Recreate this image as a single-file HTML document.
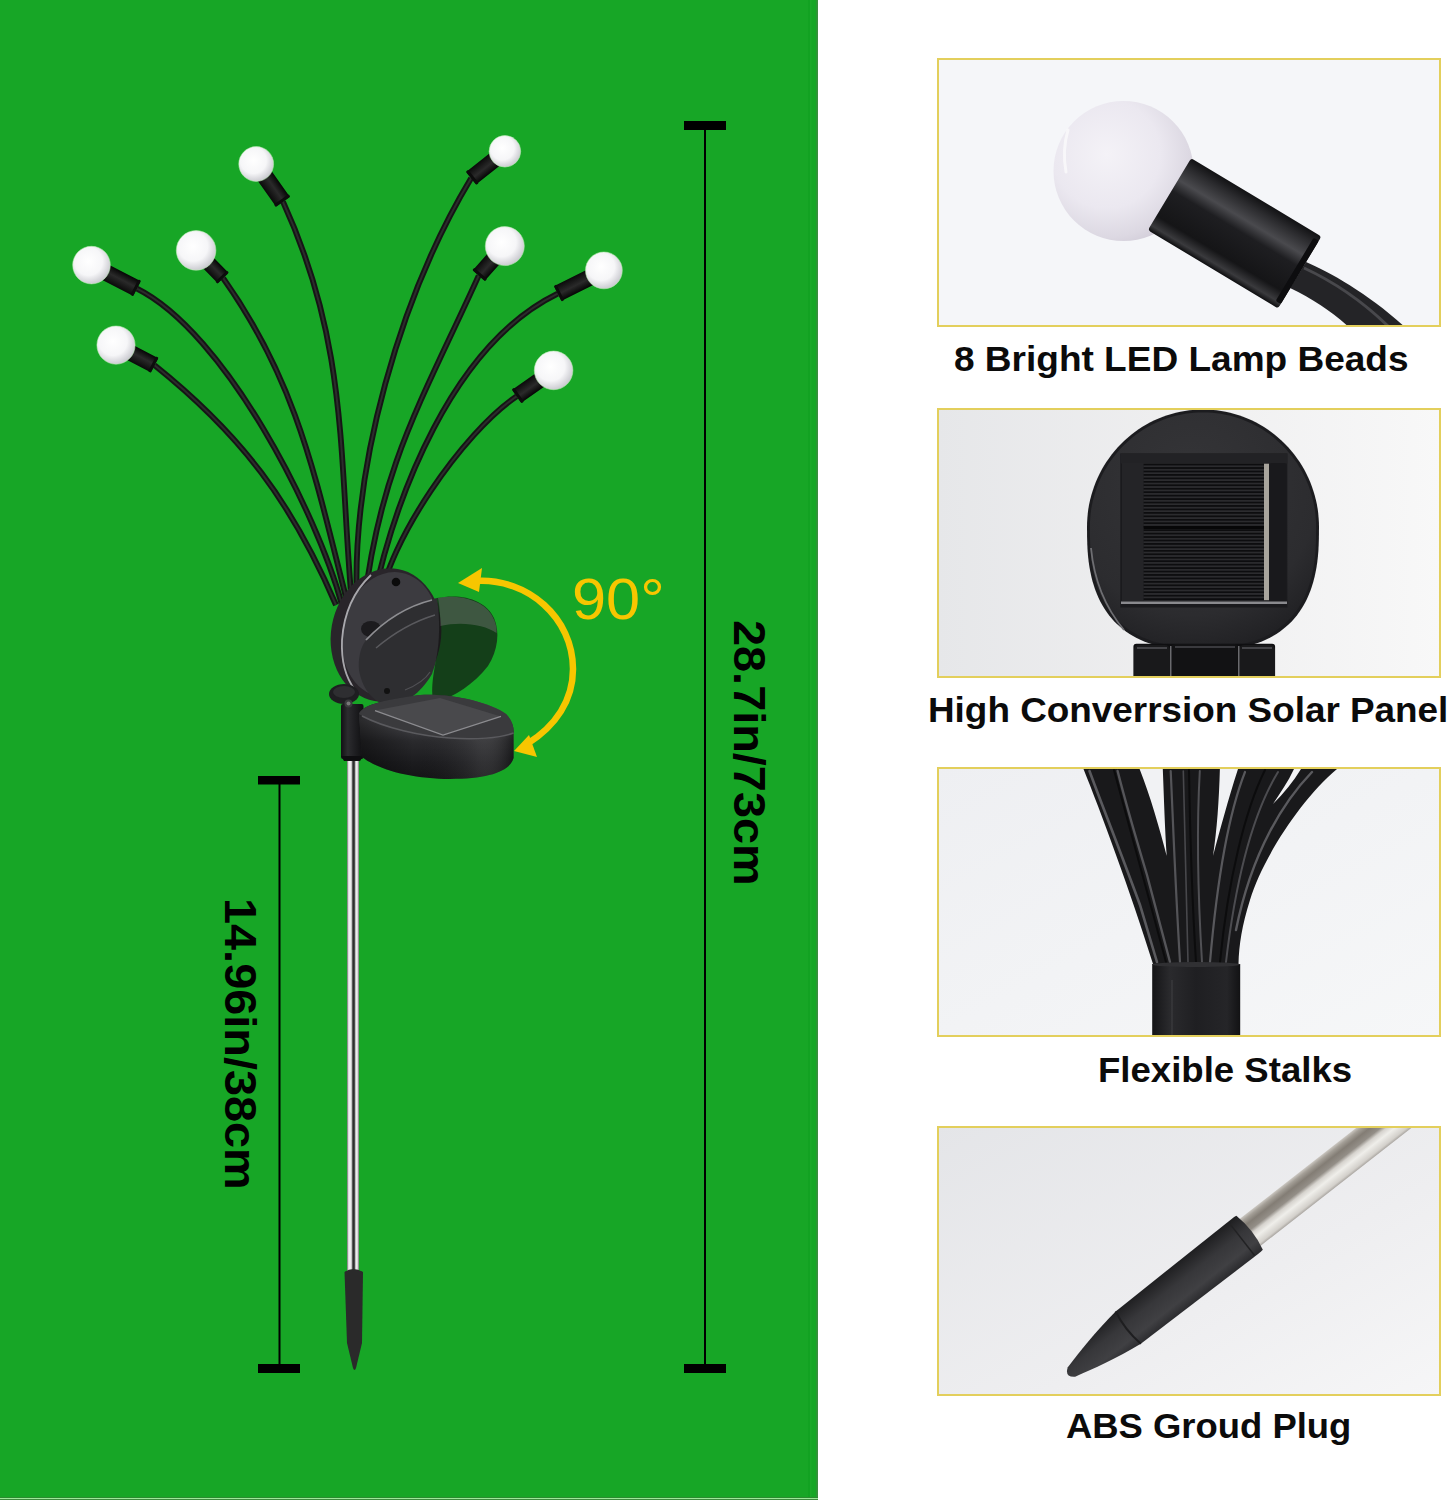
<!DOCTYPE html>
<html><head><meta charset="utf-8">
<style>
html,body{margin:0;padding:0;width:1448px;height:1500px;overflow:hidden;background:#fff;}
body{position:relative;font-family:"Liberation Sans",sans-serif;}
.left{position:absolute;left:0;top:0;width:818px;height:1500px;}
.card{position:absolute;left:937px;width:500px;height:266px;border:2px solid #e3cf5c;background:#f4f5f7;overflow:hidden;}
.lbl{position:absolute;font-weight:bold;color:#0b0b0b;white-space:nowrap;line-height:1;font-size:35.3px;transform-origin:0 0;}
.vt{position:absolute;font-weight:bold;color:#000;white-space:nowrap;line-height:1;transform-origin:0 0;}
</style></head><body>
<svg class="left" width="818" height="1500" viewBox="0 0 818 1500">
<defs>
<radialGradient id="bulb" cx="0.42" cy="0.4" r="0.62">
<stop offset="0" stop-color="#ffffff"/><stop offset="0.6" stop-color="#f6f6f8"/><stop offset="1" stop-color="#c9c9cf"/>
</radialGradient>
<linearGradient id="sock" x1="0" y1="0" x2="0" y2="1">
<stop offset="0" stop-color="#050505"/><stop offset="0.45" stop-color="#2a2a2a"/><stop offset="1" stop-color="#0a0a0a"/>
</linearGradient>
<linearGradient id="pole" x1="0" y1="0" x2="1" y2="0">
<stop offset="0" stop-color="#6a6a6a"/><stop offset="0.15" stop-color="#f4f4f4"/><stop offset="0.35" stop-color="#e8e8e8"/><stop offset="0.5" stop-color="#222"/><stop offset="0.62" stop-color="#444"/><stop offset="0.75" stop-color="#f7f7f7"/><stop offset="0.92" stop-color="#cfcfcf"/><stop offset="1" stop-color="#555"/>
</linearGradient>
</defs>
<rect x="0" y="0" width="818" height="1500" fill="#17a626"/>
<rect x="808" y="0" width="2" height="1497" fill="#12a222"/>
<rect x="810" y="0" width="1.5" height="1497" fill="#1da92a"/>
<rect x="816.3" y="0" width="1.7" height="1497" fill="#3a8f3e"/>
<rect x="0" y="1497" width="818" height="1" fill="#2c8a30"/>
<rect x="0" y="1498" width="818" height="1" fill="#9de89a"/>
<rect x="0" y="1499" width="818" height="1" fill="#3c8c3c"/>
<!-- dimension lines -->
<rect x="684" y="121" width="42" height="9" fill="#000"/>
<rect x="704" y="125" width="2" height="1244" fill="#000"/>
<rect x="684" y="1364" width="42" height="9" fill="#000"/>
<rect x="258" y="776" width="42" height="8.5" fill="#000"/>
<rect x="278.5" y="780" width="2" height="588" fill="#000"/>
<rect x="258" y="1364" width="42" height="9" fill="#000"/>
<!-- pole -->
<rect x="347" y="750" width="12" height="525" fill="url(#pole)"/>
<path d="M344.5,1272 Q353,1266 363,1272 L362,1343 L356,1368 Q354.5,1372 353,1368 L347,1343 Z" fill="#2a2a2a"/>
<!-- stalks & bulbs -->
<path d="M154.6,365.3 C240.9,434.4 291.7,501.8 336.0,605.0" stroke="#151515" stroke-width="5.8" fill="none"/>
<path d="M154.6,365.3 C240.9,434.4 291.7,501.8 336.0,605.0" stroke="#2c2c2c" stroke-width="2" fill="none"/>
<path d="M137.0,288.6 C225.6,332.9 317.0,512.5 342.0,605.0" stroke="#151515" stroke-width="5.8" fill="none"/>
<path d="M137.0,288.6 C225.6,332.9 317.0,512.5 342.0,605.0" stroke="#2c2c2c" stroke-width="2" fill="none"/>
<path d="M223.2,278.2 C299.2,385.5 316.0,481.6 348.0,605.0" stroke="#151515" stroke-width="5.8" fill="none"/>
<path d="M223.2,278.2 C299.2,385.5 316.0,481.6 348.0,605.0" stroke="#2c2c2c" stroke-width="2" fill="none"/>
<path d="M283.0,201.8 C348.4,344.4 338.8,455.4 352.0,605.0" stroke="#151515" stroke-width="5.8" fill="none"/>
<path d="M283.0,201.8 C348.4,344.4 338.8,455.4 352.0,605.0" stroke="#2c2c2c" stroke-width="2" fill="none"/>
<path d="M471.1,178.3 C400.8,295.1 350.8,466.7 357.0,605.0" stroke="#151515" stroke-width="5.8" fill="none"/>
<path d="M471.1,178.3 C400.8,295.1 350.8,466.7 357.0,605.0" stroke="#2c2c2c" stroke-width="2" fill="none"/>
<path d="M478.7,275.6 C422.9,398.7 380.2,466.2 364.0,605.0" stroke="#151515" stroke-width="5.8" fill="none"/>
<path d="M478.7,275.6 C422.9,398.7 380.2,466.2 364.0,605.0" stroke="#2c2c2c" stroke-width="2" fill="none"/>
<path d="M557.7,293.6 C451.6,345.2 394.5,498.2 372.0,605.0" stroke="#151515" stroke-width="5.8" fill="none"/>
<path d="M557.7,293.6 C451.6,345.2 394.5,498.2 372.0,605.0" stroke="#2c2c2c" stroke-width="2" fill="none"/>
<path d="M516.6,396.4 C462.6,432.7 386.8,543.9 380.0,603.0" stroke="#151515" stroke-width="5.8" fill="none"/>
<path d="M516.6,396.4 C462.6,432.7 386.8,543.9 380.0,603.0" stroke="#2c2c2c" stroke-width="2" fill="none"/>
<g transform="translate(103.8,271.4) rotate(27.3)"><rect x="0" y="-8.2" width="37.4" height="16.5" rx="1.5" fill="url(#sock)"/><rect x="34.4" y="-8.8" width="3" height="17.5" rx="1" fill="#0c0c0c"/></g>
<circle cx="91.5" cy="265.1" r="18.8" fill="url(#bulb)" stroke="#b8eeb0" stroke-width="1" stroke-opacity="0.55"/>
<g transform="translate(128.5,351.6) rotate(27.6)"><rect x="0" y="-8.0" width="29.5" height="16.0" rx="1.5" fill="url(#sock)"/><rect x="26.5" y="-8.5" width="3" height="17.0" rx="1" fill="#0c0c0c"/></g>
<circle cx="116.0" cy="345.1" r="19.1" fill="url(#bulb)" stroke="#b8eeb0" stroke-width="1" stroke-opacity="0.55"/>
<g transform="translate(206.4,261.0) rotate(45.7)"><rect x="0" y="-7.5" width="24.0" height="15.0" rx="1.5" fill="url(#sock)"/><rect x="21.0" y="-8.0" width="3" height="16.0" rx="1" fill="#0c0c0c"/></g>
<circle cx="196.1" cy="250.4" r="19.8" fill="url(#bulb)" stroke="#b8eeb0" stroke-width="1" stroke-opacity="0.55"/>
<g transform="translate(263.4,174.1) rotate(54.7)"><rect x="0" y="-8.5" width="33.9" height="17.0" rx="1.5" fill="url(#sock)"/><rect x="30.9" y="-9.0" width="3" height="18.0" rx="1" fill="#0c0c0c"/></g>
<circle cx="256.2" cy="164.0" r="17.4" fill="url(#bulb)" stroke="#b8eeb0" stroke-width="1" stroke-opacity="0.55"/>
<g transform="translate(496.5,158.0) rotate(141.4)"><rect x="0" y="-8.0" width="32.5" height="16.0" rx="1.5" fill="url(#sock)"/><rect x="29.5" y="-8.5" width="3" height="17.0" rx="1" fill="#0c0c0c"/></g>
<circle cx="504.9" cy="151.3" r="15.8" fill="url(#bulb)" stroke="#b8eeb0" stroke-width="1" stroke-opacity="0.55"/>
<g transform="translate(495.2,257.0) rotate(131.5)"><rect x="0" y="-8.0" width="24.9" height="16.0" rx="1.5" fill="url(#sock)"/><rect x="21.9" y="-8.5" width="3" height="17.0" rx="1" fill="#0c0c0c"/></g>
<circle cx="504.8" cy="246.1" r="19.5" fill="url(#bulb)" stroke="#b8eeb0" stroke-width="1" stroke-opacity="0.55"/>
<g transform="translate(591.9,276.4) rotate(153.3)"><rect x="0" y="-8.2" width="38.3" height="16.5" rx="1.5" fill="url(#sock)"/><rect x="35.3" y="-8.8" width="3" height="17.5" rx="1" fill="#0c0c0c"/></g>
<circle cx="603.9" cy="270.4" r="18.4" fill="url(#bulb)" stroke="#b8eeb0" stroke-width="1" stroke-opacity="0.55"/>
<g transform="translate(541.9,378.6) rotate(144.9)"><rect x="0" y="-8.0" width="30.9" height="16.0" rx="1.5" fill="url(#sock)"/><rect x="27.9" y="-8.5" width="3" height="17.0" rx="1" fill="#0c0c0c"/></g>
<circle cx="553.6" cy="370.4" r="19.3" fill="url(#bulb)" stroke="#b8eeb0" stroke-width="1" stroke-opacity="0.55"/>
<!-- solar unit -->
<defs>
<linearGradient id="sockv" x1="0" y1="0" x2="1" y2="0">
<stop offset="0" stop-color="#111113"/><stop offset="0.3" stop-color="#2c2c2f"/><stop offset="0.6" stop-color="#1f1f22"/><stop offset="1" stop-color="#0f0f11"/>
</linearGradient>
<linearGradient id="basewall" x1="0" y1="0" x2="0" y2="1">
<stop offset="0" stop-color="#2b2b2e"/><stop offset="0.3" stop-color="#4a4a4e"/><stop offset="0.55" stop-color="#2a2a2d"/><stop offset="0.8" stop-color="#1c1c1f"/><stop offset="1" stop-color="#141416"/>
</linearGradient>
<linearGradient id="basewallh" x1="0" y1="0" x2="1" y2="0">
<stop offset="0" stop-color="#000" stop-opacity="0.45"/><stop offset="0.35" stop-color="#000" stop-opacity="0"/><stop offset="0.75" stop-color="#fff" stop-opacity="0.08"/><stop offset="1" stop-color="#000" stop-opacity="0.3"/>
</linearGradient>
<radialGradient id="backdisc" cx="0.4" cy="0.35" r="0.75">
<stop offset="0" stop-color="#3a3a3d"/><stop offset="0.7" stop-color="#2e2e31"/><stop offset="1" stop-color="#1d1d20"/>
</radialGradient>
</defs>
<!-- back disc -->
<g transform="translate(386,635) rotate(10)">
<ellipse cx="0" cy="0" rx="55" ry="67" fill="#29252a"/>
<ellipse cx="4" cy="-1" rx="48" ry="63" fill="#3c3b40"/>
</g>
<path d="M371,575 C355,590 344,612 342,640 C341,662 346,678 355,690" stroke="#bdbdc2" stroke-width="1.8" fill="none" opacity="0.85"/>
<circle cx="396" cy="582" r="4.3" fill="#0b0b0b"/>
<ellipse cx="371" cy="629" rx="10" ry="8" fill="#1c1b1e"/>
<!-- head (opaque part on disc) -->
<path d="M364,643 C383,620 410,604 437,598 C442,622 441,650 432,674 C420,695 402,706 386,705 C372,701 362,688 359,670 C358,660 360,650 364,643 Z" fill="#2e2e31"/>
<path d="M366,640 C385,620 408,606 432,600" stroke="#8e8e92" stroke-width="1.8" fill="none"/>
<path d="M376,648 C395,632 415,621 435,615" stroke="#5a5a5e" stroke-width="1.4" fill="none"/>
<path d="M405,690 C415,686 425,680 430,672" stroke="#505054" stroke-width="1.2" fill="none"/>
<circle cx="387" cy="691" r="3" fill="#111"/>
<!-- ghost over green -->
<path d="M437,598 C462,593 486,600 494,618 C500,632 498,650 488,666 C474,684 455,696 436,703 C430,700 432,680 436,660 C440,640 440,620 437,598 Z" fill="#141414" opacity="0.7"/>
<path d="M438,598 C458,594 482,600 491,614 C496,622 497,628 496.5,633 C485,625 462,621 440.5,626 C440.5,616 439.5,606 438,598 Z" fill="#7a7a7a" opacity="0.42"/>
<!-- bracket + pole socket -->
<rect x="341" y="704" width="22.5" height="55" rx="2" fill="url(#sockv)"/>
<path d="M341,756 L363.5,756 L360,761 L344,761 Z" fill="#0e0e10"/>
<ellipse cx="344" cy="694" rx="15" ry="10" fill="#1e1e21"/>
<ellipse cx="344" cy="692" rx="11" ry="6" fill="#2e2e31"/>
<circle cx="348.5" cy="703.5" r="4" fill="#3a3a3d"/>
<circle cx="348.5" cy="703.5" r="2" fill="#777"/>
<!-- base -->
<path d="M359,714 C362,706 380,700 420,695 C450,693 490,702 506,714 C512,720 514,727 513.6,733 L513.6,758 C510,771 490,779 450,779 C415,779 380,771 362,757 Z" fill="url(#basewall)"/>
<path d="M359,714 C362,706 380,700 420,695 C450,693 490,702 506,714 C512,720 514,727 513.6,733 L513.6,758 C510,771 490,779 450,779 C415,779 380,771 362,757 Z" fill="url(#basewallh)"/>
<path d="M359,714 C362,706 380,700 420,695 C450,693 490,702 506,714 C512,720 514,727 513.6,733 C500,738 475,740 450,738 C420,736 385,728 362,716 Z" fill="#3a3a3d"/>
<path d="M375,710.6 L440,698 L501,716.4 L443,735 Z" fill="#49494c"/>
<path d="M375,710.6 L443,735 L501,716.4" stroke="#8c8c90" stroke-width="1.2" fill="none"/>
<path d="M362,716 C385,728 420,736 450,738 C475,740 500,738 513.6,733" stroke="#5a5a5e" stroke-width="1.5" fill="none"/>

<!-- arrow -->
<path d="M476,581 C528,578 573,618 573,669 C573,700 556,726 527,744" stroke="#f7c600" stroke-width="6.5" fill="none"/>
<path d="M458,583 L482,568 L479,592 Z" fill="#f7c600"/>
<path d="M514,751 L529,735 L537,757 Z" fill="#f7c600"/>
</svg>
<div class="vt" style="left:771px;top:619.7px;font-size:44px;transform:rotate(90deg) scaleX(1.065);">28.7in/73cm</div>
<div class="vt" style="left:261.5px;top:898.2px;font-size:44px;transform:rotate(90deg) scaleX(1.065);">14.96in/38cm</div>
<div style="position:absolute;left:572px;top:569.7px;font-size:58px;color:#f7c600;line-height:1;transform:scaleX(1.057);transform-origin:0 0;">90°</div>

<div class="card" style="top:58px;height:265px;"><svg style="position:absolute;left:-2px;top:-2px" width="504" height="269" viewBox="937 58 504 269">
<defs>
<radialGradient id="c1bulb" cx="0.38" cy="0.38" r="0.7">
<stop offset="0" stop-color="#f4f2f7"/><stop offset="0.55" stop-color="#ebe8f0"/><stop offset="0.85" stop-color="#dcd8e2"/><stop offset="1" stop-color="#cfcad6"/>
</radialGradient>
<linearGradient id="c1sock" x1="0" y1="0" x2="0" y2="1">
<stop offset="0" stop-color="#121214"/><stop offset="0.12" stop-color="#2a2a2d"/><stop offset="0.3" stop-color="#4a4a4e"/><stop offset="0.45" stop-color="#1e1e21"/><stop offset="0.8" stop-color="#151517"/><stop offset="0.93" stop-color="#3a3a3d"/><stop offset="1" stop-color="#0e0e10"/>
</linearGradient>
<linearGradient id="c1wire" x1="0" y1="0" x2="0" y2="1">
<stop offset="0" stop-color="#1a1a1c"/><stop offset="0.35" stop-color="#3c3c40"/><stop offset="0.6" stop-color="#1f1f22"/><stop offset="1" stop-color="#141416"/>
</linearGradient>
</defs>
<rect x="937" y="58" width="504" height="269" fill="#f5f6f9"/>
<path d="M1306,262 C1330,272 1372,296 1408,330 L1352,330 C1335,314 1315,300 1290,288 Z" fill="#242427"/>
<path d="M1304,268 C1330,280 1362,300 1392,330" stroke="#48484c" stroke-width="3" fill="none"/>
<circle cx="1123.5" cy="171" r="70" fill="url(#c1bulb)"/>
<path d="M1068,130 Q1062,150 1066,172" stroke="#ffffff" stroke-width="3" opacity="0.6" fill="none" stroke-linecap="round"/>
<g transform="translate(1169,195) rotate(31)">
<rect x="0" y="-43" width="152" height="84" rx="3" fill="url(#c1sock)"/>
<rect x="146" y="-38" width="6" height="74" rx="2" fill="#0d0d0f"/>
</g>
</svg>
</div>
<div class="lbl" style="left:954.3px;top:341.1px;transform:scaleX(1.0487);">8 Bright LED Lamp Beads</div>
<div class="card" style="top:408px;"><svg style="position:absolute;left:-2px;top:-2px" width="504" height="270" viewBox="937 408 504 270">
<defs>
<linearGradient id="c2bg" x1="0" y1="0" x2="1" y2="0">
<stop offset="0" stop-color="#e6e7e9"/><stop offset="0.5" stop-color="#efeff0"/><stop offset="1" stop-color="#f8f8f8"/>
</linearGradient>
<radialGradient id="c2disc" cx="0.45" cy="0.3" r="0.75">
<stop offset="0" stop-color="#353538"/><stop offset="0.75" stop-color="#2c2c2f"/><stop offset="1" stop-color="#202023"/>
</radialGradient>
<pattern id="c2lines" x="0" y="463.7" width="10" height="3.45" patternUnits="userSpaceOnUse">
<rect x="0" y="0" width="10" height="3.45" fill="#0d0d0f"/><rect x="0" y="2.1" width="10" height="1" fill="#404044"/>
</pattern>
</defs>
<rect x="937" y="408" width="504" height="270" fill="url(#c2bg)"/>
<path d="M1319.0,527.0 L1318.9,537.2 L1318.7,544.4 L1318.4,550.7 L1317.9,556.5 L1317.3,562.0 L1316.5,567.2 L1315.6,572.1 L1314.6,576.8 L1313.4,581.4 L1312.1,585.8 L1310.7,590.0 L1309.1,594.0 L1307.4,597.9 L1305.6,601.7 L1303.6,605.3 L1301.5,608.7 L1299.3,612.1 L1297.0,615.2 L1294.5,618.3 L1291.9,621.2 L1289.1,624.0 L1286.2,626.6 L1283.2,629.1 L1280.1,631.5 L1276.8,633.7 L1273.4,635.8 L1269.9,637.7 L1266.2,639.6 L1262.4,641.2 L1258.4,642.7 L1254.3,644.1 L1250.0,645.3 L1245.5,646.4 L1240.9,647.4 L1236.0,648.2 L1230.8,648.8 L1225.3,649.3 L1219.4,649.7 L1212.6,649.9 L1203.0,650.0 L1193.4,649.9 L1186.6,649.7 L1180.7,649.3 L1175.2,648.8 L1170.0,648.2 L1165.1,647.4 L1160.5,646.4 L1156.0,645.3 L1151.7,644.1 L1147.6,642.7 L1143.6,641.2 L1139.8,639.6 L1136.1,637.7 L1132.6,635.8 L1129.2,633.7 L1125.9,631.5 L1122.8,629.1 L1119.8,626.6 L1116.9,624.0 L1114.1,621.2 L1111.5,618.3 L1109.0,615.2 L1106.7,612.1 L1104.5,608.7 L1102.4,605.3 L1100.4,601.7 L1098.6,597.9 L1096.9,594.0 L1095.3,590.0 L1093.9,585.8 L1092.6,581.4 L1091.4,576.8 L1090.4,572.1 L1089.5,567.2 L1088.7,562.0 L1088.1,556.5 L1087.6,550.7 L1087.3,544.4 L1087.1,537.2 L1087.0,527.0 L1087.1,522.4 L1087.4,517.8 L1087.8,513.2 L1088.4,508.6 L1089.2,504.1 L1090.2,499.6 L1091.4,495.1 L1092.7,490.7 L1094.2,486.3 L1095.8,482.0 L1097.7,477.8 L1099.6,473.7 L1101.8,469.6 L1104.1,465.6 L1106.5,461.7 L1109.2,457.9 L1111.9,454.3 L1114.8,450.7 L1117.8,447.2 L1121.0,443.9 L1124.3,440.7 L1127.7,437.7 L1131.2,434.7 L1134.8,431.9 L1138.6,429.3 L1142.4,426.8 L1146.3,424.5 L1150.3,422.3 L1154.4,420.3 L1158.6,418.4 L1162.9,416.8 L1167.2,415.3 L1171.5,413.9 L1175.9,412.7 L1180.4,411.8 L1184.9,410.9 L1189.4,410.3 L1193.9,409.9 L1198.4,409.6 L1203.0,409.5 L1207.6,409.6 L1212.1,409.9 L1216.6,410.3 L1221.1,410.9 L1225.6,411.8 L1230.1,412.7 L1234.5,413.9 L1238.8,415.3 L1243.1,416.8 L1247.4,418.4 L1251.6,420.3 L1255.7,422.3 L1259.7,424.5 L1263.6,426.8 L1267.4,429.3 L1271.2,431.9 L1274.8,434.7 L1278.3,437.7 L1281.7,440.7 L1285.0,443.9 L1288.2,447.2 L1291.2,450.7 L1294.1,454.3 L1296.8,457.9 L1299.5,461.7 L1301.9,465.6 L1304.2,469.6 L1306.4,473.7 L1308.3,477.8 L1310.2,482.0 L1311.8,486.3 L1313.3,490.7 L1314.6,495.1 L1315.8,499.6 L1316.8,504.1 L1317.6,508.6 L1318.2,513.2 L1318.6,517.8 L1318.9,522.4 Z" fill="#1c1c1f"/>
<g transform="translate(1203,528) scale(0.975) translate(-1203,-528)"><path d="M1319.0,527.0 L1318.9,537.2 L1318.7,544.4 L1318.4,550.7 L1317.9,556.5 L1317.3,562.0 L1316.5,567.2 L1315.6,572.1 L1314.6,576.8 L1313.4,581.4 L1312.1,585.8 L1310.7,590.0 L1309.1,594.0 L1307.4,597.9 L1305.6,601.7 L1303.6,605.3 L1301.5,608.7 L1299.3,612.1 L1297.0,615.2 L1294.5,618.3 L1291.9,621.2 L1289.1,624.0 L1286.2,626.6 L1283.2,629.1 L1280.1,631.5 L1276.8,633.7 L1273.4,635.8 L1269.9,637.7 L1266.2,639.6 L1262.4,641.2 L1258.4,642.7 L1254.3,644.1 L1250.0,645.3 L1245.5,646.4 L1240.9,647.4 L1236.0,648.2 L1230.8,648.8 L1225.3,649.3 L1219.4,649.7 L1212.6,649.9 L1203.0,650.0 L1193.4,649.9 L1186.6,649.7 L1180.7,649.3 L1175.2,648.8 L1170.0,648.2 L1165.1,647.4 L1160.5,646.4 L1156.0,645.3 L1151.7,644.1 L1147.6,642.7 L1143.6,641.2 L1139.8,639.6 L1136.1,637.7 L1132.6,635.8 L1129.2,633.7 L1125.9,631.5 L1122.8,629.1 L1119.8,626.6 L1116.9,624.0 L1114.1,621.2 L1111.5,618.3 L1109.0,615.2 L1106.7,612.1 L1104.5,608.7 L1102.4,605.3 L1100.4,601.7 L1098.6,597.9 L1096.9,594.0 L1095.3,590.0 L1093.9,585.8 L1092.6,581.4 L1091.4,576.8 L1090.4,572.1 L1089.5,567.2 L1088.7,562.0 L1088.1,556.5 L1087.6,550.7 L1087.3,544.4 L1087.1,537.2 L1087.0,527.0 L1087.1,522.4 L1087.4,517.8 L1087.8,513.2 L1088.4,508.6 L1089.2,504.1 L1090.2,499.6 L1091.4,495.1 L1092.7,490.7 L1094.2,486.3 L1095.8,482.0 L1097.7,477.8 L1099.6,473.7 L1101.8,469.6 L1104.1,465.6 L1106.5,461.7 L1109.2,457.9 L1111.9,454.3 L1114.8,450.7 L1117.8,447.2 L1121.0,443.9 L1124.3,440.7 L1127.7,437.7 L1131.2,434.7 L1134.8,431.9 L1138.6,429.3 L1142.4,426.8 L1146.3,424.5 L1150.3,422.3 L1154.4,420.3 L1158.6,418.4 L1162.9,416.8 L1167.2,415.3 L1171.5,413.9 L1175.9,412.7 L1180.4,411.8 L1184.9,410.9 L1189.4,410.3 L1193.9,409.9 L1198.4,409.6 L1203.0,409.5 L1207.6,409.6 L1212.1,409.9 L1216.6,410.3 L1221.1,410.9 L1225.6,411.8 L1230.1,412.7 L1234.5,413.9 L1238.8,415.3 L1243.1,416.8 L1247.4,418.4 L1251.6,420.3 L1255.7,422.3 L1259.7,424.5 L1263.6,426.8 L1267.4,429.3 L1271.2,431.9 L1274.8,434.7 L1278.3,437.7 L1281.7,440.7 L1285.0,443.9 L1288.2,447.2 L1291.2,450.7 L1294.1,454.3 L1296.8,457.9 L1299.5,461.7 L1301.9,465.6 L1304.2,469.6 L1306.4,473.7 L1308.3,477.8 L1310.2,482.0 L1311.8,486.3 L1313.3,490.7 L1314.6,495.1 L1315.8,499.6 L1316.8,504.1 L1317.6,508.6 L1318.2,513.2 L1318.6,517.8 L1318.9,522.4 Z" fill="url(#c2disc)"/></g>
<path d="M1091,548 C1094,580 1104,606 1124,630" stroke="#6e6e72" stroke-width="1.8" fill="none"/>

<rect x="1120.3" y="453.5" width="167" height="154" fill="#1a1a1d"/>
<rect x="1120.3" y="453.5" width="167" height="10" fill="#222225"/>
<rect x="1122" y="463" width="21.7" height="138" fill="#242427"/>
<rect x="1270.5" y="463" width="15" height="138" fill="#19191c"/>
<rect x="1143.7" y="463.7" width="120.2" height="137" fill="url(#c2lines)"/>
<rect x="1143.7" y="526" width="120.2" height="3" fill="#070708"/>
<rect x="1264" y="463.7" width="5" height="136.5" fill="#a8a49c"/>
<rect x="1121" y="601.5" width="166" height="2.5" fill="#8a8a8e"/>
<rect x="1133.4" y="643.7" width="141.7" height="40" rx="3" fill="#0f0f11"/>
<rect x="1134" y="645" width="36" height="40" rx="5" fill="#19191b"/>
<rect x="1171.6" y="644" width="66" height="40" rx="3" fill="#121214"/>
<rect x="1239" y="645" width="36" height="40" rx="5" fill="#19191b"/>
<rect x="1137" y="647" width="30" height="2" fill="#444448"/>
<rect x="1175" y="646" width="60" height="2" fill="#3a3a3e"/>
<rect x="1242" y="647" width="30" height="2" fill="#444448"/>
<rect x="1170" y="646" width="1.5" height="38" fill="#6a6a6e"/>
<rect x="1238" y="646" width="1.5" height="38" fill="#6a6a6e"/>
</svg>
</div>
<div class="lbl" style="left:927.6px;top:691.6px;transform:scaleX(1.0445);">High Converrsion Solar Panel</div>
<div class="card" style="top:767px;"><svg style="position:absolute;left:-2px;top:-2px" width="504" height="270" viewBox="937 767 504 270">
<defs>
<linearGradient id="c3bg" x1="0" y1="0" x2="1" y2="1">
<stop offset="0" stop-color="#eeeff2"/><stop offset="1" stop-color="#f6f7f8"/>
</linearGradient>
<linearGradient id="c3col" x1="0" y1="0" x2="1" y2="0">
<stop offset="0" stop-color="#141416"/><stop offset="0.2" stop-color="#2a2a2d"/><stop offset="0.5" stop-color="#1f1f22"/><stop offset="0.85" stop-color="#252528"/><stop offset="1" stop-color="#121214"/>
</linearGradient>
</defs>
<rect x="937" y="767" width="504" height="270" fill="url(#c3bg)"/>
<path d="M1083.5,769 C1100,810 1130,890 1153,964 L1238.5,964 C1239,945 1242,925 1250,900 C1262,860 1300,800 1337,769 Z" fill="#19191b"/>
<path d="M1139.6,769 C1150,795 1160,830 1166.7,856 C1165,830 1164,800 1162.8,769 Z" fill="#f1f2f4"/>
<path d="M1219.9,769 C1219,800 1217,830 1213,856 C1220,830 1228,800 1238,769 Z" fill="#f1f2f4"/>
<path d="M1294,769 C1288,782 1280,793 1273,804 C1284,793 1293,782 1301,769 Z" fill="#f3f3f5"/>
<g fill="none" stroke-linecap="round">
<path d="M1114,770 C1128,820 1148,895 1166,962" stroke="#0c0c0d" stroke-width="2"/>
<path d="M1189,770 C1190,830 1192,900 1196,962" stroke="#0c0c0d" stroke-width="2"/>
<path d="M1265,770 C1245,810 1228,880 1220,962" stroke="#0c0c0d" stroke-width="2"/>
<path d="M1089.5,771 C1100,800 1118,845 1140,905 C1147,928 1152,945 1157,962" stroke="#5a5a5e" stroke-width="2.6"/>
<path d="M1117.6,771 C1125,800 1135,835 1147,875 C1155,905 1163,935 1170,962" stroke="#555559" stroke-width="2.4"/>
<path d="M1170.7,771 C1173,820 1175,880 1180,962" stroke="#545458" stroke-width="2.2"/>
<path d="M1183.3,771 C1185,820 1186,880 1188,962" stroke="#48484c" stroke-width="1.6"/>
<path d="M1199.8,771 C1197,820 1197,880 1202,962" stroke="#505054" stroke-width="2"/>
<path d="M1245,772 C1230,810 1218,870 1210,962" stroke="#58585c" stroke-width="2.2"/>
<path d="M1278,772 C1258,805 1238,860 1226,962" stroke="#4c4c50" stroke-width="2"/>
<path d="M1312,772 C1285,800 1252,850 1236,930" stroke="#5a5a5e" stroke-width="2.4"/>
</g>
<rect x="1152.2" y="964" width="88" height="75" fill="url(#c3col)"/>
<ellipse cx="1196.2" cy="964.5" rx="44" ry="2.5" fill="#303033"/>
<path d="M1172,980 L1172,1035" stroke="#3a3a3d" stroke-width="2" opacity="0.7"/>
</svg>
</div>
<div class="lbl" style="left:1098.3px;top:1052.3px;transform:scaleX(1.036);">Flexible Stalks</div>
<div class="card" style="top:1126px;"><svg style="position:absolute;left:-2px;top:-2px" width="504" height="270" viewBox="937 1126 504 270">
<defs>
<linearGradient id="c4bg" x1="0" y1="0" x2="1" y2="1">
<stop offset="0" stop-color="#e4e5e8"/><stop offset="0.6" stop-color="#eeeef0"/><stop offset="1" stop-color="#f6f6f7"/>
</linearGradient>
<linearGradient id="c4rod" x1="0" y1="0" x2="0" y2="1">
<stop offset="0" stop-color="#aaa6a1"/><stop offset="0.08" stop-color="#d3d0cb"/><stop offset="0.3" stop-color="#efeeea"/><stop offset="0.45" stop-color="#d6d3ce"/><stop offset="0.56" stop-color="#938e87"/><stop offset="0.75" stop-color="#837d75"/><stop offset="0.9" stop-color="#a49f97"/><stop offset="1" stop-color="#cbc7c1"/>
</linearGradient>
<linearGradient id="c4plug" x1="0" y1="0" x2="0" y2="1">
<stop offset="0" stop-color="#2a2a2d"/><stop offset="0.25" stop-color="#404043"/><stop offset="0.6" stop-color="#37373a"/><stop offset="1" stop-color="#1e1e20"/>
</linearGradient>
</defs>
<rect x="937" y="1126" width="504" height="270" fill="url(#c4bg)"/>
<g transform="translate(1248,1234) rotate(142)">
<rect x="-250" y="-17" width="252" height="34" fill="url(#c4rod)"/>
<path d="M-2,-21.5 Q0,-22 4,-22 L152,-20.5 C180,-17 205,-11 224,-6 Q233,0 224,6 C205,11 180,17 152,20.5 L4,22 Q0,22 -2,21.5 Q-7,0 -2,-21.5 Z" fill="url(#c4plug)"/>
<path d="M152,-20.5 Q156,0 152,20.5" stroke="#1e1e20" stroke-width="2" fill="none"/>
<path d="M8,-21 L8,21" stroke="#222224" stroke-width="1.5"/>
</g>
</svg>
</div>
<div class="lbl" style="left:1066.3px;top:1408.3px;transform:scaleX(1.032);">ABS Groud Plug</div>
</body></html>
